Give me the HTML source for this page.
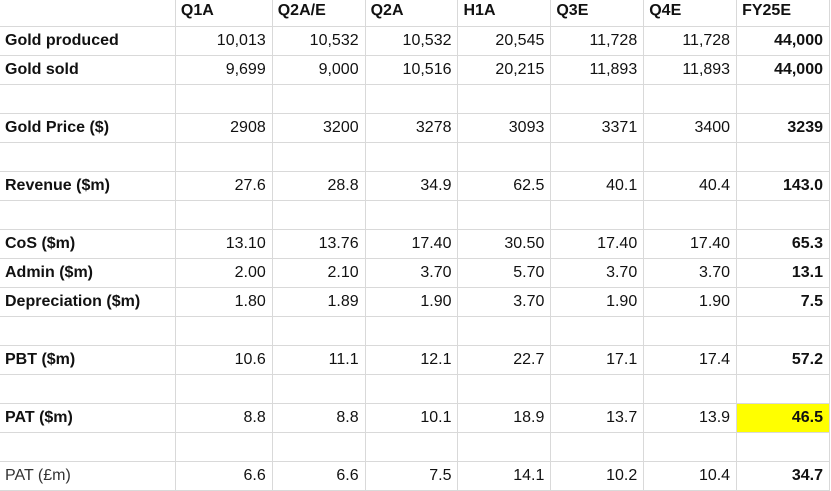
<!DOCTYPE html>
<html><head><meta charset="utf-8"><style>
html,body{margin:0;padding:0;background:#fff;width:831px;height:490px;overflow:hidden}
table{border-collapse:collapse;table-layout:fixed;font-family:"Liberation Sans",Arial,sans-serif;font-size:16px;color:#111;position:absolute;left:-1px;top:-3px}
td{border:1px solid #d9d9d9;height:29px;padding:0 6px 0 5px;text-align:right;white-space:nowrap;overflow:hidden;box-sizing:border-box}
tr.h td{height:29px;text-align:left;font-weight:bold;border-top:none}
td.l{text-align:left;font-weight:bold;padding-left:5px}
td.b{font-weight:bold}
td.y{background:#ffff00}
td.n{font-weight:normal;color:#333}
</style></head><body>
<table>
<colgroup><col style="width:176px"><col style="width:97px"><col style="width:93px"><col style="width:93px"><col style="width:93px"><col style="width:93px"><col style="width:93px"><col style="width:93px"></colgroup>
<tr class="h"><td style="border-left:none"></td><td>Q1A</td><td>Q2A/E</td><td>Q2A</td><td>H1A</td><td>Q3E</td><td>Q4E</td><td>FY25E</td></tr>
<tr><td class="l">Gold produced</td><td>10,013</td><td>10,532</td><td>10,532</td><td>20,545</td><td>11,728</td><td>11,728</td><td class="b">44,000</td></tr>
<tr><td class="l">Gold sold</td><td>9,699</td><td>9,000</td><td>10,516</td><td>20,215</td><td>11,893</td><td>11,893</td><td class="b">44,000</td></tr>
<tr><td></td><td></td><td></td><td></td><td></td><td></td><td></td><td></td></tr>
<tr><td class="l">Gold Price ($)</td><td>2908</td><td>3200</td><td>3278</td><td>3093</td><td>3371</td><td>3400</td><td class="b">3239</td></tr>
<tr><td></td><td></td><td></td><td></td><td></td><td></td><td></td><td></td></tr>
<tr><td class="l">Revenue ($m)</td><td>27.6</td><td>28.8</td><td>34.9</td><td>62.5</td><td>40.1</td><td>40.4</td><td class="b">143.0</td></tr>
<tr><td></td><td></td><td></td><td></td><td></td><td></td><td></td><td></td></tr>
<tr><td class="l">CoS ($m)</td><td>13.10</td><td>13.76</td><td>17.40</td><td>30.50</td><td>17.40</td><td>17.40</td><td class="b">65.3</td></tr>
<tr><td class="l">Admin ($m)</td><td>2.00</td><td>2.10</td><td>3.70</td><td>5.70</td><td>3.70</td><td>3.70</td><td class="b">13.1</td></tr>
<tr><td class="l">Depreciation ($m)</td><td>1.80</td><td>1.89</td><td>1.90</td><td>3.70</td><td>1.90</td><td>1.90</td><td class="b">7.5</td></tr>
<tr><td></td><td></td><td></td><td></td><td></td><td></td><td></td><td></td></tr>
<tr><td class="l">PBT ($m)</td><td>10.6</td><td>11.1</td><td>12.1</td><td>22.7</td><td>17.1</td><td>17.4</td><td class="b">57.2</td></tr>
<tr><td></td><td></td><td></td><td></td><td></td><td></td><td></td><td></td></tr>
<tr><td class="l">PAT ($m)</td><td>8.8</td><td>8.8</td><td>10.1</td><td>18.9</td><td>13.7</td><td>13.9</td><td class="b y">46.5</td></tr>
<tr><td></td><td></td><td></td><td></td><td></td><td></td><td></td><td></td></tr>
<tr><td class="l n">PAT (£m)</td><td>6.6</td><td>6.6</td><td>7.5</td><td>14.1</td><td>10.2</td><td>10.4</td><td class="b">34.7</td></tr>
</table>
</body></html>
